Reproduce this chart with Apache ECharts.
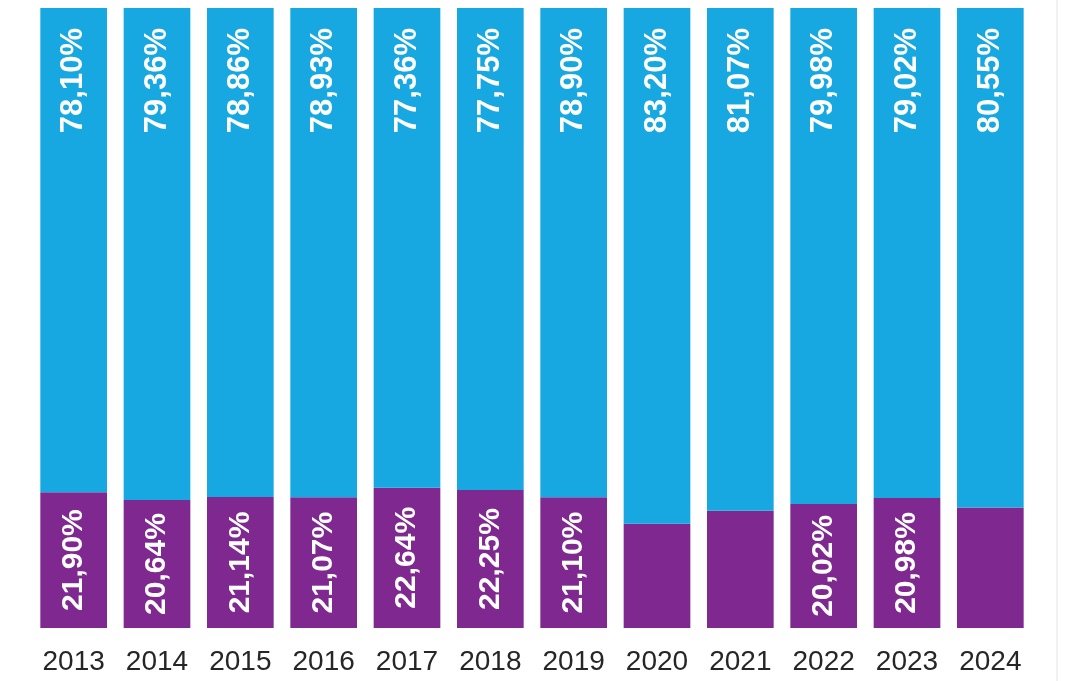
<!DOCTYPE html>
<html>
<head>
<meta charset="utf-8">
<title>chart</title>
<script src="https://cdn.jsdelivr.net/npm/echarts@6/dist/echarts.min.js"></script>
<style>
  html, body { margin: 0; padding: 0; background: #fff; }
  #main { width: 1069px; height: 681px; }
</style>
</head>
<body>
<div id="main"></div>
<script>
const years = ['2013', '2014', '2015', '2016', '2017', '2018', '2019', '2020', '2021', '2022', '2023', '2024']
// parte superiore (azzurro)
const topValues = [78.10, 79.36, 78.86, 78.93, 77.36, 77.75, 78.90, 83.20, 81.07, 79.98, 79.02, 80.55]
// parte inferiore (viola)
const bottomValues = [21.90, 20.64, 21.14, 21.07, 22.64, 22.25, 21.10, 16.80, 18.93, 20.02, 20.98, 19.45]
// anni senza etichetta sulla parte viola
const hiddenBottomLabels = ['2020', '2021', '2024']

const blue = '#17a8e1'
const purple = '#7e2890'

function fmt(v) {
  return v.toFixed(2).replace('.', ',') + '%'
}

const chart = echarts.init(document.getElementById('main'))

chart.setOption({
  animation: false,
  grid: {
    top: 8,
    bottom: 53,
    left: 32,
    right: 37
  },
  xAxis: {
    type: 'category',
    data: years,
    axisLine: { show: false },
    axisTick: { show: false },
    axisLabel: {
      color: '#262626',
      fontSize: 28,
      fontFamily: 'Liberation Sans, Arial, sans-serif',
      margin: 20
    }
  },
  yAxis: {
    type: 'value',
    min: 0,
    max: 100,
    show: false
  },
  graphic: [{
    type: 'line',
    shape: { x1: 1057, y1: 0, x2: 1057, y2: 681 },
    style: { stroke: '#e4e4e4', lineWidth: 1 }
  }],
  series: [{
    name: 'bottom',
    type: 'bar',
    stack: 'total',
    barCategoryGap: '20%',
    itemStyle: { color: purple },
    data: bottomValues.map((v, i) => ({
      value: v,
      label: { show: hiddenBottomLabels.indexOf(years[i]) < 0 }
    })),
    label: {
      show: true,
      position: 'inside',
      rotate: 90,
      color: '#fff',
      fontWeight: 'bold',
      fontSize: 30,
      fontFamily: 'Liberation Sans, Arial, sans-serif',
      formatter: p => fmt(p.value)
    }
  }, {
    name: 'top',
    type: 'bar',
    stack: 'total',
    barCategoryGap: '20%',
    itemStyle: { color: blue },
    data: topValues,
    label: {
      show: true,
      position: 'insideTop',
      distance: 20,
      rotate: 90,
      align: 'right',
      verticalAlign: 'middle',
      color: '#fff',
      fontWeight: 'bold',
      fontSize: 31,
      fontFamily: 'Liberation Sans, Arial, sans-serif',
      formatter: p => fmt(p.value)
    }
  }]
})
</script>
</body>
</html>
